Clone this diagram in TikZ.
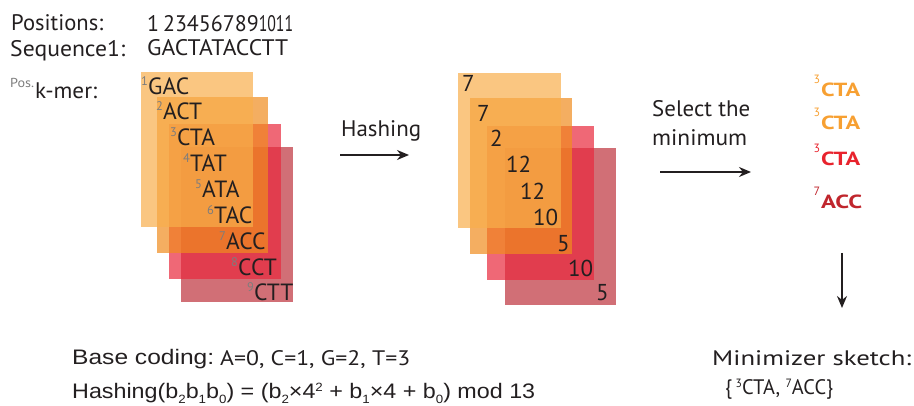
\documentclass[tikz,border=0pt]{standalone}
\usepackage{fontspec}
\setmainfont{PT Sans}
\newfontfamily\helv{Liberation Sans}
\usetikzlibrary{arrows.meta}
\definecolor{rA}{RGB}{248,174,76}
\definecolor{rB}{RGB}{240,140,30}
\definecolor{rC}{RGB}{232,40,60}
\definecolor{rD}{RGB}{190,50,60}
\definecolor{supgray}{RGB}{125,125,125}
\definecolor{ink}{RGB}{35,31,32}
\definecolor{mOr}{RGB}{247,160,50}
\definecolor{mRd}{RGB}{232,35,45}
\definecolor{mDk}{RGB}{192,38,45}
\newcommand\sps[1]{\llap{\raisebox{9.5pt}{\fontsize{12.5}{13}\selectfont\color{supgray}#1}\kern0.3pt}}
\newcommand\msup[1]{\llap{\raisebox{13pt}{\fontsize{12}{12}\selectfont\mdseries #1}\kern1pt}}
\newcommand\fitw[2]{\resizebox{#1pt}{\height}{#2}}
\newcommand\lsub[1]{\raisebox{-5pt}{\fontsize{12}{12}\selectfont #1}}
\newcommand\hsup[1]{\raisebox{7.5pt}{\fontsize{12}{12}\selectfont #1}}
\tikzset{
  lbl/.style={inner sep=0pt, anchor=base west, text=ink, font=\fontsize{22.5}{24}\selectfont},
  kmer/.style={inner sep=0pt, anchor=base west, text=ink, font=\fontsize{23.5}{24}\selectfont},
  hnum/.style={inner sep=0pt, anchor=base west, text=ink, font=\fontsize{23}{24}\selectfont},
  mini/.style={inner sep=0pt, anchor=base west, font=\fontsize{19}{20}\selectfont\bfseries},
  card/.style={fill opacity=0.7},
  arr/.style={line width=1.5pt, ink, -{Stealth[length=12pt,width=10pt]}},
  btxt/.style={inner sep=0pt, anchor=base west, text=ink, font=\fontsize{21}{22}\selectfont\helv},
}
\begin{document}
\begin{tikzpicture}[x=1pt,y=-1pt]
\useasboundingbox (0,0) rectangle (914,406);
% header
\node[lbl] (posl) at (11,31) {\fitw{92}{Positions:}};
\node[lbl] (seql) at (10,57) {\fitw{115}{Sequence1:}};
\node[lbl] (posn) at (147,32) {\fitw{146}{1\kern4pt 23456789\scalebox{0.72}[1]{1011}}};
\node[lbl] (seq) at (147,56) {\fitw{141}{GACTATACCTT}};
\node[inner sep=0pt, anchor=base west, text=supgray, font=\fontsize{13}{13}\selectfont] (posx) at (10,88) {\fitw{24}{Pos.}};
\node[lbl] (kmerl) at (35,99) {\fitw{62}{k-mer:}};
% left cards
\fill[rD,card] (181,147) rectangle (293,302);
\fill[rC,card] (169,124) rectangle (281,279);
\fill[rB,card] (157,97) rectangle (268,253);
\fill[rA,card] (141,72) rectangle (253,227);
\node[kmer] (k1) at (148,95) {\sps{1}GAC};
\node[kmer] (k2) at (163,120) {\sps{2}ACT};
\node[kmer] (k3) at (177,146) {\sps{3}CTA};
\node[kmer] (k4) at (190,172) {\sps{4}TAT};
\node[kmer] (k5) at (202,198) {\sps{5}ATA};
\node[kmer] (k6) at (214,224) {\sps{6}TAC};
\node[kmer] (k7) at (226,250) {\sps{7}ACC};
\node[kmer] (k8) at (238,276) {\sps{8}CCT};
\node[kmer] (k9) at (254,301) {\sps{9}CTT};
% middle cards
\fill[rD,card] (505,148) rectangle (616,305);
\fill[rC,card] (487,126) rectangle (594,280);
\fill[rB,card] (470,98) rectangle (572,254);
\fill[rA,card] (458,73) rectangle (561,228);
\node[hnum] (h1) at (462,92) {7};
\node[hnum] (h2) at (477,122) {7};
\node[hnum] (h3) at (490,147) {2};
\node[hnum] (h4) at (506,173) {12};
\node[hnum] (h5) at (520,200) {12};
\node[hnum] (h6) at (533,226) {10};
\node[hnum] (h7) at (557,252) {5};
\node[hnum] (h8) at (568,277) {10};
\node[hnum] (h9) at (596,301) {5};
% arrows and labels
\node[lbl] (hashl) at (341,137) {\fitw{80}{Hashing}};
\coordinate (a1s) at (340,155);
\coordinate (a1e) at (409,155);
\draw[arr] (a1s) -- (a1e);
\node[lbl] (sel1) at (652,117) {\fitw{98}{Select the}};
\node[lbl] (sel2) at (652,146) {\fitw{95}{minimum}};
\coordinate (a2s) at (660,172);
\coordinate (a2e) at (751,172);
\draw[arr] (a2s) -- (a2e);
% minimizers
\node[mini, text=mOr] (m1) at (821,97) {\msup{3}\fitw{39}{CTA}};
\node[mini, text=mOr] (m2) at (821,130) {\msup{3}\fitw{39}{CTA}};
\node[mini, text=mRd] (m3) at (821,166) {\msup{3}\fitw{39}{CTA}};
\node[mini, text=mDk] (m4) at (821,209) {\msup{7}\fitw{41}{ACC}};
\coordinate (a3s) at (842,253);
\coordinate (a3e) at (842,308);
\draw[arr] (a3s) -- (a3e);
% bottom
\node[btxt] (base) at (72,365) {\fitw{142}{Base coding:}};
\node[lbl, font=\fontsize{21}{22}\selectfont] (basev) at (220,365) {\fitw{190}{A=0, C=1, G=2, T=3}};
\node[btxt] (hash) at (72,399) {\fitw{463}{Hashing(b\lsub{2}b\lsub{1}b\lsub{0}) = (b\lsub{2}×4\hsup{2} + b\lsub{1}×4 + b\lsub{0}) mod 13}};
\node[lbl, font=\fontsize{21}{22}\selectfont] (msk) at (712,366) {\fitw{199}{Minimizer sketch:}};
\node[lbl, font=\fontsize{21}{22}\selectfont] (mset) at (725,395) {\fitw{108}{\{\,\raisebox{7pt}{\fontsize{12}{12}\selectfont 3}CTA, \raisebox{7pt}{\fontsize{12}{12}\selectfont 7}ACC\}}};
\end{tikzpicture}
\end{document}
